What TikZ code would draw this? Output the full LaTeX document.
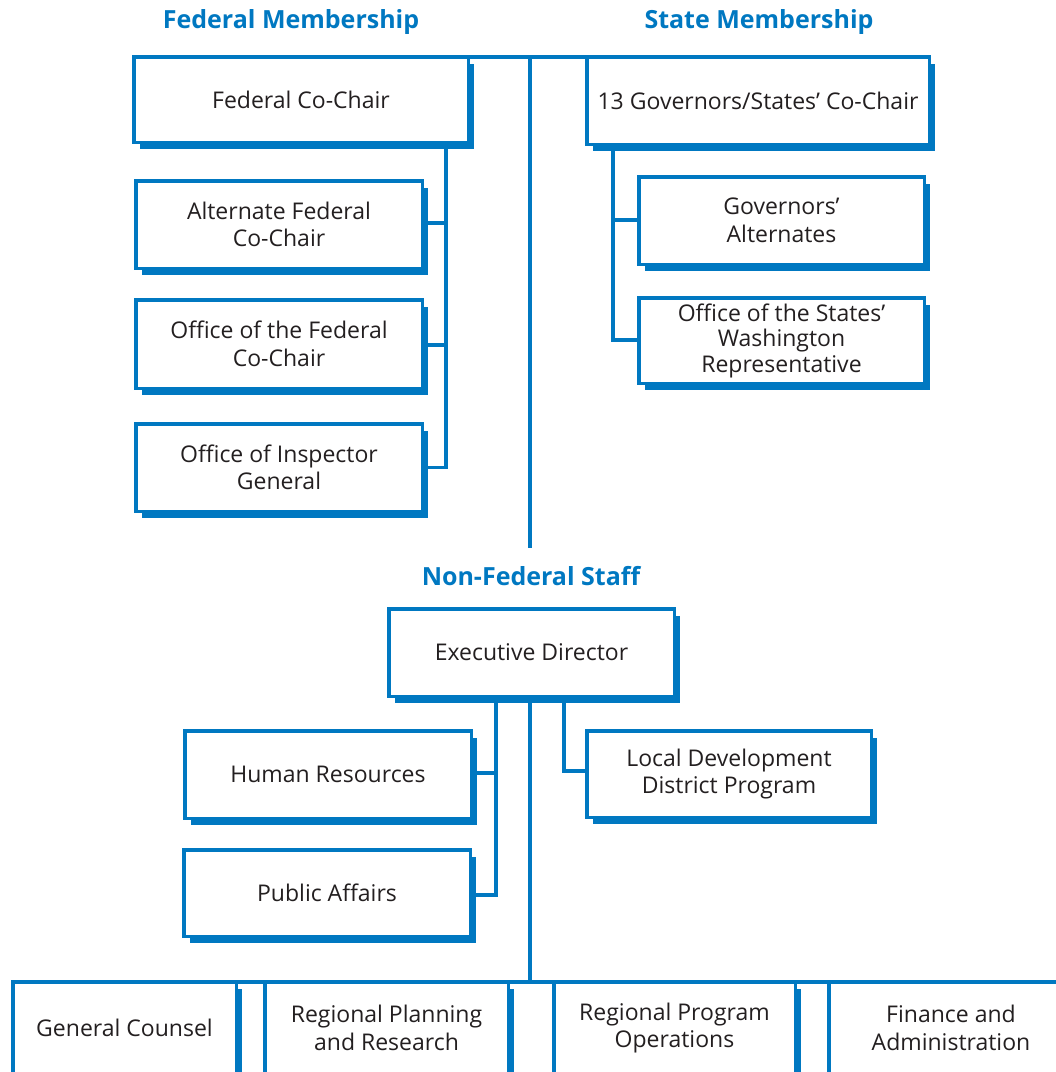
\documentclass[tikz,border=0pt]{standalone}
\usepackage{fontspec}
\setmainfont{Open Sans}
\usetikzlibrary{shadows}
\definecolor{acblue}{RGB}{0,120,193}
\definecolor{txtgray}{RGB}{35,31,32}
\tikzset{
  orgbox/.style={draw=acblue, line width=3.5pt, fill=white, outer sep=0pt, inner sep=0pt,
    align=center, text=txtgray, font=\fontsize{23}{27.5}\selectfont,
    drop shadow={shadow xshift=6pt, shadow yshift=-7pt, fill=acblue, opacity=1}},
  tightlines/.style={font=\fontsize{23}{25.5}\selectfont},
  hdr/.style={text=acblue, font=\fontsize{25}{28}\selectfont\bfseries, anchor=base, inner sep=0pt},
  conn/.style={draw=acblue, line width=3.5pt}
}
\begin{document}
\begin{tikzpicture}[x=1pt,y=-1pt]
\useasboundingbox (0,0) rectangle (1056,1072);
\clip (0,0) rectangle (1056,1072);
% headers
\node[hdr] (fm) at (291,28) {Federal Membership};
\node[hdr] (sm) at (759,28) {State Membership};
\node[hdr] (nfs) at (531,585) {Non-Federal Staff};
% coordinates for trunks
\coordinate (fx) at (446,0);
\coordinate (sx) at (613,0);
\coordinate (cx) at (530,0);
\coordinate (lx) at (496,0);
\coordinate (rx) at (564,0);
\coordinate (cend) at (530,548);
% connectors (drawn first, under boxes)
\coordinate (top) at (530,56.75);
\draw[conn] (470,56.75) coordinate (fcne) -- (585,56.75) coordinate (govnw);
\draw[conn] (top) -- (cend);
\draw[conn] (fx |- 0,140) |- (279,467.5) coordinate (oigc);
\draw[conn] (fx |- 0,223) -- (279,223);
\draw[conn] (fx |- 0,345) -- (279,345);
\draw[conn] (sx |- 0,140) |- (781,340) coordinate (oswc);
\draw[conn] (sx |- 0,220) -- (781,220);
\draw[conn] (lx |- 0,690) |- (327,895);
\draw[conn] (lx |- 0,773) -- (328,773);
\draw[conn] (rx |- 0,690) |- (729,771);
\draw[conn] (cx |- 0,690) -- (530,981.75);
\draw[conn] (11,981.75) -- (1056,981.75);
% boxes
\node[orgbox, minimum width=334.5, minimum height=85.5] (fcc) at (301,99.5) {Federal Co-Chair};
\node[orgbox, minimum width=286.5, minimum height=87.5] (afc) at (279,224.5) {Alternate Federal\\Co-Chair};
\node[orgbox, minimum width=286.5, minimum height=88.5] (ofc) at (279,344) {Office of the Federal\\Co-Chair};
\node[orgbox, minimum width=286.5, minimum height=87.5] (oig) at (279,467.5) {Office of Inspector\\General};
\node[orgbox, minimum width=342.5, minimum height=87.5] (gov) at (758,100.5) {13 Governors/States’ Co-Chair};
\node[orgbox, minimum width=285.5, minimum height=87.5] (ga) at (781.5,220.5) {Governors’\\Alternates};
\node[orgbox, tightlines, minimum width=285.5, minimum height=85.5] (osw) at (781.5,340.5) {Office of the States’\\Washington\\Representative};
\node[orgbox, minimum width=285.5, minimum height=87.5] (ed) at (531.5,652.5) {Executive Director};
\node[orgbox, minimum width=286.5, minimum height=87.5] (hr) at (328,774.5) {Human Resources};
\node[orgbox, minimum width=286.5, minimum height=86.5] (pa) at (327,893) {Public Affairs};
\node[orgbox, minimum width=284.5, minimum height=86.5] (ldd) at (729,774) {Local Development\\District Program};
\node[orgbox, minimum width=223.5, minimum height=92.5] (gc) at (124.5,1028) {General Counsel};
\node[orgbox, minimum width=243.5, minimum height=92.5] (rpr) at (386.5,1028) {Regional Planning\\and Research};
\node[orgbox, minimum width=241.5, minimum height=92.5] (rpo) at (674.5,1028) {Regional Program\\Operations};
\node[orgbox, minimum width=244.5, minimum height=92.5] (fa) at (951,1028) {Finance and\\Administration};
\end{tikzpicture}
\end{document}
